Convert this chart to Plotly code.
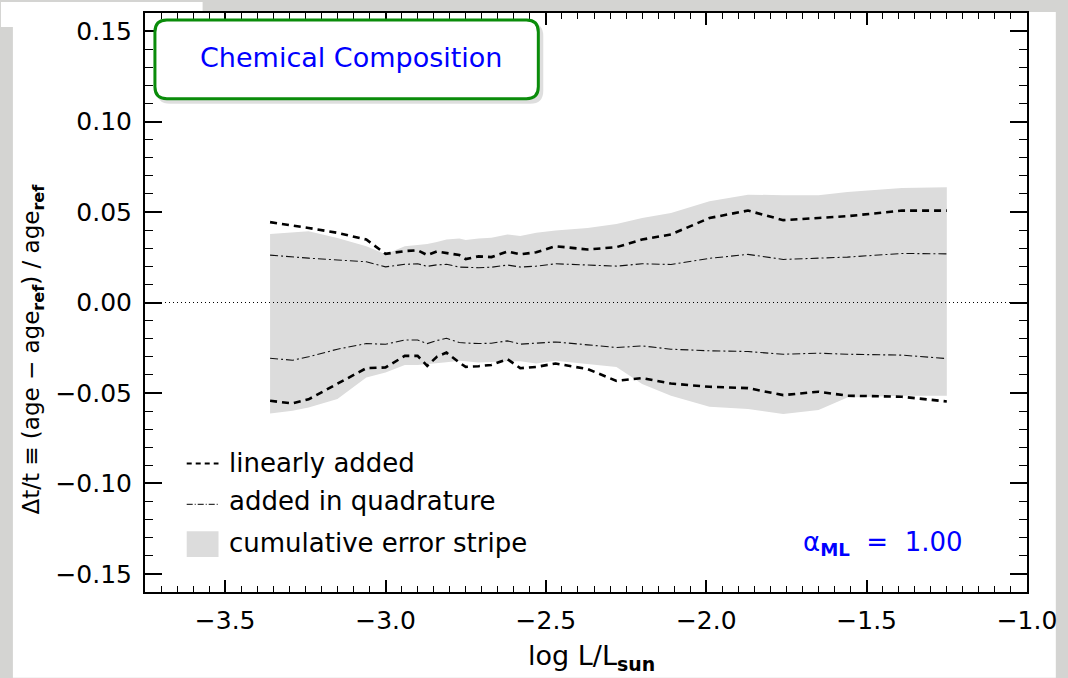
import plotly.graph_objects as go

# ---- data ----
log_L = [-3.36, -3.29, -3.24, -3.15, -3.06, -3.00, -2.94, -2.90, -2.87, -2.84,
         -2.81, -2.77, -2.75, -2.71, -2.67, -2.62, -2.58, -2.53, -2.47, -2.37,
         -2.28, -2.20, -2.11, -1.99, -1.87, -1.76, -1.65, -1.56, -1.39, -1.25]

linear_upper = [0.0444, 0.0426, 0.0412, 0.0385, 0.0348, 0.0269, 0.0284, 0.0289, 0.0262, 0.0282,
                0.0275, 0.0262, 0.0240, 0.0255, 0.0251, 0.0282, 0.0266, 0.0278, 0.0311, 0.0293,
                0.0306, 0.0348, 0.0376, 0.0467, 0.0508, 0.0455, 0.0467, 0.0477, 0.0508, 0.0508]
linear_lower = [-0.0543, -0.0558, -0.0535, -0.0451, -0.0363, -0.0359, -0.0295, -0.0295, -0.0350, -0.0300,
                -0.0277, -0.0332, -0.0356, -0.0352, -0.0345, -0.0313, -0.0363, -0.0356, -0.0337, -0.0368,
                -0.0433, -0.0418, -0.0448, -0.0466, -0.0473, -0.0512, -0.0493, -0.0515, -0.0521, -0.0547]
quad_upper = [0.0262, 0.0251, 0.0245, 0.0235, 0.0225, 0.0197, 0.0211, 0.0214, 0.0200, 0.0208,
              0.0211, 0.0196, 0.0194, 0.0192, 0.0195, 0.0207, 0.0196, 0.0201, 0.0214, 0.0205,
              0.0201, 0.0214, 0.0210, 0.0244, 0.0266, 0.0238, 0.0244, 0.0251, 0.0271, 0.0269]
quad_lower = [-0.0308, -0.0319, -0.0300, -0.0258, -0.0227, -0.0231, -0.0207, -0.0207, -0.0227, -0.0210,
              -0.0198, -0.0221, -0.0224, -0.0227, -0.0225, -0.0212, -0.0230, -0.0223, -0.0218, -0.0234,
              -0.0249, -0.0240, -0.0258, -0.0267, -0.0271, -0.0286, -0.0280, -0.0286, -0.0291, -0.0310]
stripe_upper = [0.0379, 0.0390, 0.0394, 0.0357, 0.0311, 0.0266, 0.0311, 0.0318, 0.0324, 0.0335,
                0.0348, 0.0354, 0.0345, 0.0354, 0.0358, 0.0376, 0.0367, 0.0385, 0.0398, 0.0412,
                0.0434, 0.0467, 0.0495, 0.0560, 0.0596, 0.0593, 0.0593, 0.0611, 0.0633, 0.0637]
stripe_lower = [-0.0613, -0.0598, -0.0580, -0.0534, -0.0414, -0.0387, -0.0346, -0.0345, -0.0341, -0.0335,
                -0.0330, -0.0322, -0.0325, -0.0332, -0.0330, -0.0325, -0.0325, -0.0337, -0.0322, -0.0340,
                -0.0356, -0.0451, -0.0515, -0.0576, -0.0589, -0.0616, -0.0594, -0.0525, -0.0515, -0.0515]

x_ticks = [-3.5, -3.0, -2.5, -2.0, -1.5, -1.0]
y_ticks = [-0.15, -0.10, -0.05, 0.00, 0.05, 0.10, 0.15]
legend_labels = ["linearly added", "added in quadrature", "cumulative error stripe"]
panel_title = "Chemical Composition"
alpha_label = "α<sub><b>ML</b></sub>  =  1.00"

# ---- layout geometry (pixels) ----
W, H = 1068, 678
L, R, T, B = 145, 35, 11, 86
PW, PH = W - L - R, H - T - B


def px(xp):
    return (xp - L) / PW


def py(yp):
    return (H - B - yp) / PH


FONT = "DejaVu Sans"
STRIPE = "#dcdcdc"

fig = go.Figure()

# cumulative error stripe
fig.add_trace(go.Scatter(
    x=log_L + log_L[::-1], y=stripe_upper + stripe_lower[::-1],
    fill="toself", fillcolor=STRIPE, line=dict(width=0), mode="lines",
    hoverinfo="skip", showlegend=False))

# quadrature
for ys in (quad_upper, quad_lower):
    fig.add_trace(go.Scatter(x=log_L, y=ys, mode="lines",
                             line=dict(color="#111111", width=1.1, dash="8px,3px,2px,3px"),
                             showlegend=False))
# linearly added
for ys in (linear_upper, linear_lower):
    fig.add_trace(go.Scatter(x=log_L, y=ys, mode="lines",
                             line=dict(color="black", width=2.6, dash="7px,5px"),
                             showlegend=False))

shapes = []
# page background pieces
shapes.append(dict(type="rect", xref="paper", yref="paper", layer="below",
                   x0=px(12), x1=px(1062), y0=py(678), y1=py(10),
                   fillcolor="white", line=dict(width=0)))
shapes.append(dict(type="rect", xref="paper", yref="paper", layer="below",
                   x0=px(0), x1=px(203), y0=py(25), y1=py(0),
                   fillcolor="white", line=dict(width=0)))

# zero dotted line
shapes.append(dict(type="line", xref="paper", yref="y", x0=0, x1=1, y0=0, y1=0,
                   line=dict(color="black", width=1, dash="1px,3px")))


def rounded(x0p, x1p, ytop, ybot, r):
    x0, x1 = px(x0p), px(x1p)
    y1, y0 = py(ytop), py(ybot)
    rx, ry = r / PW, r / PH
    return (f"M {x0+rx},{y1} L {x1-rx},{y1} Q {x1},{y1} {x1},{y1-ry} "
            f"L {x1},{y0+ry} Q {x1},{y0} {x1-rx},{y0} L {x0+rx},{y0} "
            f"Q {x0},{y0} {x0},{y0+ry} L {x0},{y1-ry} Q {x0},{y1} {x0+rx},{y1} Z")


# title box shadow and box
shapes.append(dict(type="path", xref="paper", yref="paper",
                   path=rounded(157, 546, 21, 102, 13),
                   fillcolor="rgba(0,0,0,0.13)", line=dict(width=0)))
shapes.append(dict(type="path", xref="paper", yref="paper",
                   path=rounded(155, 541, 18, 97, 12),
                   fillcolor="white", line=dict(color="#0a8c0a", width=3)))

# legend samples
shapes.append(dict(type="line", xref="paper", yref="paper",
                   x0=px(187), x1=px(219), y0=py(463), y1=py(463),
                   line=dict(color="black", width=2, dash="5px,4px")))
shapes.append(dict(type="line", xref="paper", yref="paper",
                   x0=px(187), x1=px(219), y0=py(504), y1=py(504),
                   line=dict(color="black", width=1, dash="6px,2px,1px,2px")))
shapes.append(dict(type="rect", xref="paper", yref="paper",
                   x0=px(187), x1=px(219), y0=py(557), y1=py(531),
                   fillcolor=STRIPE, line=dict(width=0)))

annotations = []
for label, yy in zip(legend_labels, [463, 501, 543]):
    annotations.append(dict(text=label, xref="paper", yref="paper", x=px(228), y=py(yy),
                            xanchor="left", yanchor="middle", showarrow=False,
                            font=dict(family=FONT, size=26, color="black")))
annotations.append(dict(text=panel_title, xref="paper", yref="paper", x=px(352), y=py(56),
                        xanchor="center", yanchor="middle", showarrow=False,
                        font=dict(family=FONT, size=27, color="#0000ff")))
annotations.append(dict(text=alpha_label, xref="paper", yref="paper", x=px(971), y=py(543),
                        xanchor="right", yanchor="middle", showarrow=False,
                        font=dict(family=FONT, size=26, color="#0000ff")))
annotations.append(dict(text="log L/L<sub><b>sun</b></sub>", xref="paper", yref="paper",
                        x=px(595), y=py(658), xanchor="center", yanchor="middle", showarrow=False,
                        font=dict(family=FONT, size=27, color="black")))
annotations.append(dict(text="Δt/t ≡ (age − age<sub><b>ref</b></sub>) / age<sub><b>ref</b></sub>",
                        xref="paper", yref="paper", x=px(32), y=py(348), textangle=-90,
                        xanchor="center", yanchor="middle", showarrow=False,
                        font=dict(family=FONT, size=23, color="black")))

axis_common = dict(showgrid=False, zeroline=False, showline=True, linecolor="black",
                   linewidth=2, mirror="ticks", ticks="inside", tickcolor="black",
                   tickwidth=1.5, tickfont=dict(family=FONT, size=25, color="black"))

fig.update_layout(
    width=W, height=H,
    margin=dict(l=L, r=R, t=T, b=B),
    paper_bgcolor="#d4d4d2", plot_bgcolor="white",
    showlegend=False,
    shapes=shapes, annotations=annotations,
    xaxis=dict(range=[-3.75, -1.0], tickvals=x_ticks, ticklen=12, tickformat=".1f",
               ticklabelstandoff=5,
               minor=dict(dtick=0.05, tick0=-3.5, ticklen=6, ticks="inside",
                          tickcolor="black", tickwidth=1.3),
               **axis_common),
    yaxis=dict(range=[-0.16, 0.16], tickvals=y_ticks, ticklen=17, tickformat=".2f",
               ticklabelstandoff=6,
               minor=dict(dtick=0.01, tick0=0, ticklen=8, ticks="inside",
                          tickcolor="black", tickwidth=1.3),
               **axis_common),
)

fig.write_html("out.html")
